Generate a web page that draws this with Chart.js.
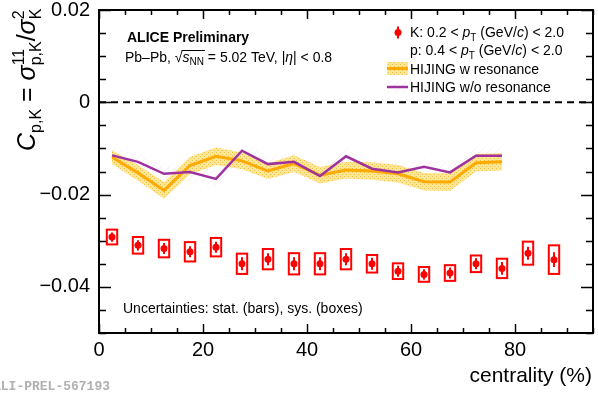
<!DOCTYPE html>
<html>
<head>
<meta charset="utf-8">
<script src="https://cdn.jsdelivr.net/npm/chart.js@4.4.1/dist/chart.umd.min.js"></script>
<style>
  body { margin: 0; background: #fff; }
  canvas { display: block; }
</style>
</head>
<body>
<canvas id="chart" width="598" height="397"></canvas>
<script>
// ALICE data: C_pK vs centrality
const centrality = [2.5, 7.5, 12.5, 17.5, 22.5, 27.5, 32.5, 37.5, 42.5, 47.5, 52.5, 57.5, 62.5, 67.5, 72.5, 77.5, 82.5, 87.5]
const cpk = [-0.0292, -0.0310, -0.0317, -0.0324, -0.0314, -0.0350, -0.0340, -0.0350, -0.0350, -0.0340, -0.0350, -0.0366, -0.0373, -0.0370, -0.0350, -0.0360, -0.0327, -0.0341]
const cpkStat = [0.0010, 0.0011, 0.0012, 0.0012, 0.0012, 0.0014, 0.0013, 0.0014, 0.0014, 0.0013, 0.0013, 0.0012, 0.0011, 0.0012, 0.0012, 0.0014, 0.0014, 0.0016]
const cpkSys = [0.0016, 0.0018, 0.0019, 0.0021, 0.0020, 0.0022, 0.0022, 0.0023, 0.0023, 0.0022, 0.0019, 0.0017, 0.0016, 0.0017, 0.0018, 0.0021, 0.0025, 0.0031]

// HIJING
const hijingCent = [2.5, 7.5, 12.5, 17.5, 22.5, 27.5, 32.5, 37.5, 42.5, 47.5, 52.5, 57.5, 62.5, 67.5, 72.5, 77.5]
const hijingW = [-0.0119, -0.0153, -0.0191, -0.0137, -0.0117, -0.0127, -0.0149, -0.0133, -0.0158, -0.0147, -0.0149, -0.0155, -0.0172, -0.0173, -0.0131, -0.0129]
const hijingWErr = [0.0015, 0.0017, 0.0018, 0.0019, 0.0019, 0.0018, 0.0017, 0.0018, 0.0018, 0.0018, 0.0019, 0.0019, 0.0019, 0.0019, 0.0019, 0.0019]
const hijingWo = [-0.0115, -0.0129, -0.0155, -0.0151, -0.0166, -0.0105, -0.0134, -0.0129, -0.0160, -0.0117, -0.0144, -0.0152, -0.0140, -0.0152, -0.0116, -0.0116]
const hijingWoErr = [0.0018, 0.0018, 0.0018, 0.0018, 0.0018, 0.0018, 0.0018, 0.0018, 0.0018, 0.0018, 0.0018, 0.0018, 0.0018, 0.0018, 0.0018, 0.0018]

const xTicks = [0, 20, 40, 60, 80]
const yTicks = [-0.04, -0.02, 0, 0.02]

const FONT = "'Liberation Sans', Arial, Helvetica, sans-serif"
const RED = '#ff0000'
const ORANGE = '#ffaa00'
const PURPLE = '#a0329f'
const boxHalfWidth = 1.0

let canvas = document.getElementById('chart')
let ctx = canvas.getContext('2d')

function dotPattern() {
    let c = document.createElement('canvas')
    c.width = 4; c.height = 4
    let g = c.getContext('2d')
    g.fillStyle = 'rgba(250,222,120,0.75)'
    g.fillRect(0, 0, 4, 4)
    g.fillStyle = 'rgba(236,190,50,0.85)'
    g.fillRect(0, 0, 1, 1)
    g.fillRect(2, 2, 1, 1)
    return ctx.createPattern(c, 'repeat')
}

function hatchPattern() {
    let c = document.createElement('canvas')
    c.width = 8; c.height = 8
    let g = c.getContext('2d')
    g.strokeStyle = 'rgba(220,160,220,0.18)'
    g.lineWidth = 1
    g.beginPath()
    g.moveTo(0, 8); g.lineTo(8, 0)
    g.stroke()
    return ctx.createPattern(c, 'repeat')
}

const dots = dotPattern()
const hatch = hatchPattern()

function pts(xs, ys) {
    return xs.map((x, i) => ({ x: x, y: ys[i] }))
}

// draws text parts one after another, returns end x
function rich(c, x, y, parts) {
    let cx = x
    parts.forEach(p => {
        if (p.stack) {
            let w = 0
            p.stack.forEach(s => {
                c.font = s.f
                c.fillText(s.t, cx, y + (s.dy || 0))
                w = Math.max(w, c.measureText(s.t).width)
            })
            cx += w
        } else {
            c.font = p.f
            c.fillText(p.t, cx, y + (p.dy || 0))
            cx += c.measureText(p.t).width
        }
    })
    return cx
}

const decorations = {
    id: 'decorations',
    beforeDatasetsDraw(chart) {
        let c = chart.ctx
        let xs = chart.scales.x, ys = chart.scales.y
        let a = chart.chartArea
        c.save()
        // zero line
        c.strokeStyle = '#000'
        c.lineWidth = 2
        c.setLineDash([7, 5])
        c.beginPath()
        c.moveTo(a.left, ys.getPixelForValue(0))
        c.lineTo(a.right, ys.getPixelForValue(0))
        c.stroke()
        c.setLineDash([])
        // sys boxes + stat bars
        c.strokeStyle = RED
        c.lineWidth = 2
        centrality.forEach((x, i) => {
            let x0 = xs.getPixelForValue(x - boxHalfWidth)
            let x1 = xs.getPixelForValue(x + boxHalfWidth)
            let y0 = ys.getPixelForValue(cpk[i] + cpkSys[i])
            let y1 = ys.getPixelForValue(cpk[i] - cpkSys[i])
            c.strokeRect(x0, y0, x1 - x0, y1 - y0)
            let px = xs.getPixelForValue(x)
            c.beginPath()
            c.moveTo(px, ys.getPixelForValue(cpk[i] + cpkStat[i]))
            c.lineTo(px, ys.getPixelForValue(cpk[i] - cpkStat[i]))
            c.stroke()
        })
        c.restore()
    },
    afterDraw(chart) {
        let c = chart.ctx
        let xs = chart.scales.x, ys = chart.scales.y
        let a = chart.chartArea
        c.save()
        c.strokeStyle = '#000'
        c.lineWidth = 1.5
        c.beginPath()
        for (let v = 0; v <= 95; v += 5) {
            let len = v % 20 === 0 ? 9 : 5
            let px = Math.round(xs.getPixelForValue(v)) + 0.5
            c.moveTo(px, a.bottom); c.lineTo(px, a.bottom - len)
            c.moveTo(px, a.top); c.lineTo(px, a.top + len)
        }
        for (let k = -50; k <= 20; k += 5) {
            let len = k % 20 === 0 ? 12 : 7
            let py = Math.round(ys.getPixelForValue(k / 1000)) + 0.5
            c.moveTo(a.left, py); c.lineTo(a.left + len, py)
            c.moveTo(a.right, py); c.lineTo(a.right - len, py)
        }
        c.stroke()
        c.lineWidth = 2
        c.strokeRect(a.left, a.top, a.right - a.left, a.bottom - a.top)

        c.fillStyle = '#000'
        c.textBaseline = 'alphabetic'
        c.textAlign = 'left'

        // x title
        c.font = '21px ' + FONT
        c.textAlign = 'right'
        c.fillText('centrality (%)', 592, 382)
        c.textAlign = 'left'

        // y title
        c.save()
        c.translate(35, 151)
        c.rotate(-Math.PI / 2)
        let big = '25px ' + FONT, bigI = 'italic 25px ' + FONT, sm = '16px ' + FONT
        rich(c, 0, 0, [
            { t: 'C', f: bigI },
            { t: 'p,K', f: sm, dy: 6 },
            { t: ' = ', f: big },
            { t: '\u03c3', f: bigI },
            { stack: [{ t: '11', f: sm, dy: -11 }, { t: 'p,K', f: sm, dy: 6 }] },
            { t: '/', f: big },
            { t: '\u03c3', f: bigI },
            { stack: [{ t: '2', f: sm, dy: -11 }, { t: 'K', f: sm, dy: 6 }] }
        ])
        c.restore()

        // labels
        c.font = 'bold 14px ' + FONT
        c.fillText('ALICE Preliminary', 127, 42)
        let n = '14px ' + FONT, ni = 'italic 14px ' + FONT, s = '10px ' + FONT
        let xr = rich(c, 125, 62, [{ t: 'Pb\u2013Pb, ', f: n }, { t: '\u221a', f: n }])
        let xe = rich(c, xr, 62, [{ t: 's', f: ni }, { t: 'NN', f: s, dy: 3 }])
        c.lineWidth = 1
        c.beginPath()
        c.moveTo(xr - 1, 50.5); c.lineTo(xe + 1, 50.5)
        c.stroke()
        rich(c, xe, 62, [{ t: ' = 5.02 TeV, |', f: n }, { t: '\u03b7', f: ni }, { t: '| < 0.8', f: n }])

        c.font = n
        c.fillText('Uncertainties: stat. (bars), sys. (boxes)', 123, 313)

        // legend
        c.fillStyle = RED
        c.beginPath()
        c.arc(398, 32.5, 3.5, 0, Math.PI * 2)
        c.fill()
        c.strokeStyle = RED
        c.lineWidth = 2
        c.beginPath()
        c.moveTo(398, 26.5); c.lineTo(398, 38.5)
        c.stroke()
        c.fillStyle = '#000'
        rich(c, 410, 37, [
            { t: 'K: 0.2 < ', f: n }, { t: 'p', f: ni }, { t: 'T', f: s, dy: 4 },
            { t: ' (GeV/', f: n }, { t: 'c', f: ni }, { t: ') < 2.0', f: n }
        ])
        rich(c, 410, 55, [
            { t: 'p: 0.4 < ', f: n }, { t: 'p', f: ni }, { t: 'T', f: s, dy: 4 },
            { t: ' (GeV/', f: n }, { t: 'c', f: ni }, { t: ') < 2.0', f: n }
        ])
        c.fillStyle = dots
        c.fillRect(387, 62, 21, 13)
        c.strokeStyle = ORANGE
        c.lineWidth = 3
        c.beginPath()
        c.moveTo(387, 68.5); c.lineTo(408, 68.5)
        c.stroke()
        c.fillStyle = hatch
        c.fillRect(387, 81, 21, 12)
        c.strokeStyle = PURPLE
        c.lineWidth = 2.5
        c.beginPath()
        c.moveTo(387, 87); c.lineTo(408, 87)
        c.stroke()
        c.fillStyle = '#000'
        c.font = n
        c.fillText('HIJING w resonance', 410, 73.5)
        c.fillText('HIJING w/o resonance', 410, 92)

        // watermark
        c.fillStyle = '#b0b0b0'
        c.font = 'bold 13px "Liberation Mono", "DejaVu Sans Mono", monospace'
        c.fillText('ALI-PREL-567193', -7, 390)
        c.restore()
    }
}

let chart = new Chart(ctx, {
    type: 'scatter',
    data: {
        datasets: [
            {
                label: 'ALICE',
                data: pts(centrality, cpk),
                pointRadius: 3.5,
                pointBackgroundColor: RED,
                pointBorderWidth: 0,
                showLine: false,
                order: 0
            },
            {
                label: 'HIJING w/o resonance',
                data: pts(hijingCent, hijingWo),
                showLine: true,
                borderColor: PURPLE,
                borderWidth: 2.5,
                pointRadius: 0,
                fill: false,
                order: 1
            },
            {
                label: 'HIJING w resonance',
                data: pts(hijingCent, hijingW),
                showLine: true,
                borderColor: ORANGE,
                borderWidth: 3,
                pointRadius: 0,
                fill: false,
                order: 2
            },
            {
                label: 'w low',
                data: pts(hijingCent, hijingW.map((v, i) => v - hijingWErr[i])),
                showLine: true,
                borderWidth: 0,
                borderColor: 'rgba(0,0,0,0)',
                pointRadius: 0,
                fill: false,
                order: 3
            },
            {
                label: 'w high',
                data: pts(hijingCent, hijingW.map((v, i) => v + hijingWErr[i])),
                showLine: true,
                borderWidth: 0,
                borderColor: 'rgba(0,0,0,0)',
                backgroundColor: dots,
                pointRadius: 0,
                fill: '-1',
                order: 3
            },
            {
                label: 'wo low',
                data: pts(hijingCent, hijingWo.map((v, i) => v - hijingWoErr[i])),
                showLine: true,
                borderWidth: 0,
                borderColor: 'rgba(0,0,0,0)',
                pointRadius: 0,
                fill: false,
                order: 4
            },
            {
                label: 'wo high',
                data: pts(hijingCent, hijingWo.map((v, i) => v + hijingWoErr[i])),
                showLine: true,
                borderWidth: 0,
                borderColor: 'rgba(0,0,0,0)',
                backgroundColor: hatch,
                pointRadius: 0,
                fill: '-1',
                order: 4
            }
        ]
    },
    options: {
        responsive: false,
        animation: false,
        layout: { padding: { top: 10, right: 5, left: 0, bottom: 0 } },
        plugins: {
            legend: { display: false },
            tooltip: { enabled: false }
        },
        scales: {
            x: {
                type: 'linear',
                min: 0,
                max: 95,
                grid: { display: false, drawTicks: false },
                border: { display: false },
                ticks: {
                    color: '#000',
                    font: { family: FONT, size: 20 },
                    padding: 5,
                    maxRotation: 0
                },
                afterBuildTicks: s => { s.ticks = xTicks.map(v => ({ value: v })) },
                afterFit: s => { s.height = 64; s.paddingLeft = 0; s.paddingRight = 0 }
            },
            y: {
                type: 'linear',
                min: -0.05,
                max: 0.02,
                grid: { display: false, drawTicks: false },
                border: { display: false },
                ticks: {
                    color: '#000',
                    font: { family: FONT, size: 20 },
                    padding: 9,
                    callback: v => Math.abs(v) < 1e-9 ? '0' : v.toFixed(2).replace('-', '\u2212')
                },
                afterBuildTicks: s => { s.ticks = yTicks.map(v => ({ value: v })) },
                afterFit: s => { s.width = 99; s.paddingTop = 0; s.paddingBottom = 0 }
            }
        }
    },
    plugins: [decorations]
})
</script>
</body>
</html>
